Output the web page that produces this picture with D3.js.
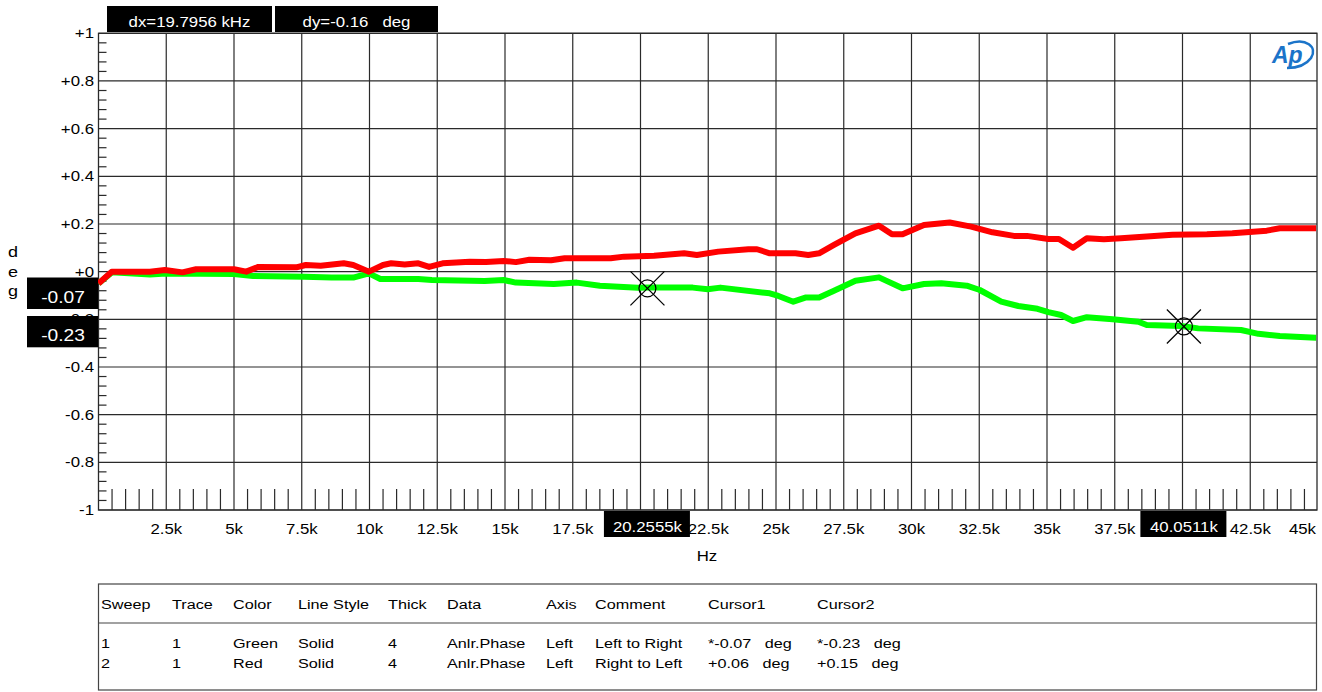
<!DOCTYPE html>
<html><head><meta charset="utf-8">
<script src="https://cdn.jsdelivr.net/npm/d3@7"></script>
<style>body{margin:0;background:#fff;} text{font-family:"Liberation Sans",Arial,sans-serif;}</style>
</head><body><svg id="c" width="1322" height="692"></svg>
<script>
// ---------- data ----------
const xTicks = [2500,5000,7500,10000,12500,15000,17500,20000,22500,25000,27500,30000,32500,35000,37500,40000,42500,45000];
const xTickLabels = ["2.5k","5k","7.5k","10k","12.5k","15k","17.5k","20k","22.5k","25k","27.5k","30k","32.5k","35k","37.5k","40k","42.5k","45k"];
const yTicks = [-1,-0.8,-0.6,-0.4,-0.2,0,0.2,0.4,0.6,0.8,1];
const yTickLabels = ["-1","-0.8","-0.6","-0.4","-0.2","+0","+0.2","+0.4","+0.6","+0.8","+1"];

const greenFreqK = [0,0.49,1.9,2.5,5.0,5.7,7.6,8.6,9.4,9.98,10.4,11.8,12.3,14.25,14.95,15.4,16.8,17.65,18.5,19.9,20.34,21.93,22.48,22.95,24.77,25.09,25.64,26.11,26.59,27.14,27.93,28.8,29.67,30.46,31.1,32.04,32.52,33.31,33.94,34.65,35.05,35.52,35.96,36.47,37.42,38.37,38.68,39.95,40.58,42.16,42.8,43.59,44.93];
const greenDeg   = [-0.05,-0.003,-0.012,-0.008,-0.01,-0.018,-0.021,-0.025,-0.025,-0.007,-0.031,-0.031,-0.035,-0.039,-0.035,-0.046,-0.052,-0.046,-0.059,-0.068,-0.067,-0.067,-0.074,-0.067,-0.091,-0.102,-0.126,-0.108,-0.108,-0.08,-0.038,-0.024,-0.07,-0.052,-0.049,-0.059,-0.077,-0.126,-0.144,-0.156,-0.17,-0.182,-0.207,-0.191,-0.2,-0.21,-0.224,-0.228,-0.238,-0.245,-0.261,-0.27,-0.277];

const redFreqK = [0,0.49,1.9,2.45,3.1,3.6,5.0,5.45,5.9,7.3,7.65,8.2,9.05,9.4,9.98,10.5,10.8,11.3,11.8,12.2,12.7,13.7,14.3,14.95,15.4,15.9,16.7,17.2,18.9,19.4,20.5,21.61,22.08,22.87,23.98,24.3,24.77,25.72,26.19,26.59,27.14,27.93,28.8,29.28,29.67,30.46,31.41,32.2,32.99,33.78,34.26,35.05,35.44,35.96,36.47,37.1,37.73,38.68,39.63,40.9,41.84,43.11,43.59,44.93];
const redDeg   = [-0.05,0,0,0.007,-0.003,0.01,0.01,0.0,0.02,0.018,0.028,0.025,0.035,0.028,0.0,0.028,0.035,0.03,0.035,0.02,0.035,0.042,0.04,0.045,0.04,0.05,0.048,0.056,0.056,0.063,0.067,0.077,0.07,0.084,0.094,0.094,0.077,0.077,0.07,0.077,0.112,0.161,0.193,0.157,0.157,0.196,0.206,0.189,0.165,0.15,0.15,0.137,0.137,0.10,0.14,0.136,0.14,0.147,0.155,0.157,0.161,0.172,0.182,0.182];

const cursorFreqK = [20.2555, 40.0511];
const cursorLabels = ["20.2555k","40.0511k"];
const cursorDeg = [-0.07, -0.23];
const readoutLabels = ["-0.07","-0.23"];
const headerLabels = ["dx=19.7956 kHz","dy=-0.16   deg"];
const tableHeader = ["Sweep","Trace","Color","Line Style","Thick","Data","Axis","Comment","Cursor1","Cursor2"];
const tableRow1 = ["1","1","Green","Solid","4","Anlr.Phase","Left","Left to Right","*-0.07   deg","*-0.23   deg"];
const tableRow2 = ["2","1","Red","Solid","4","Anlr.Phase","Left","Right to Left","+0.06   deg","+0.15   deg"];

// ---------- layout ----------
const L = 98.5, R = 1318, T0 = 33.3, B = 510;
const svg = d3.select("#c");
const x = d3.scaleLinear().domain([0,45000]).range([L,R]);
const y = d3.scaleLinear().domain([-1,1]).range([B,T0]);
const SX = 1.2;
function txt(g, px, py, s, anchor, size, fill){
  return g.append("text").attr("transform",`translate(${px},${py}) scale(${SX},1)`)
    .attr("text-anchor",anchor||"start").attr("font-size",size||14).attr("fill",fill||"#000")
    .style("white-space","pre").text(s);
}
const gridColor = "#2a2a2a";

// grid
const grid = svg.append("g");
grid.selectAll("line.v").data(xTicks.filter(d=>d<45000)).join("line")
  .attr("x1",d=>x(d)).attr("x2",d=>x(d)).attr("y1",T0).attr("y2",B)
  .attr("stroke",gridColor).attr("stroke-width",1.2);
grid.selectAll("line.h").data(yTicks).join("line")
  .attr("x1",L).attr("x2",1317).attr("y1",d=>y(d)).attr("y2",d=>y(d))
  .attr("stroke",gridColor).attr("stroke-width",1.2);
grid.append("rect").attr("x",L).attr("y",T0).attr("width",1317-L).attr("height",B-T0)
  .attr("fill","none").attr("stroke",gridColor).attr("stroke-width",1.3);

// minor ticks
const yMinor = d3.range(-1,1.0001,0.04).filter(v=>Math.abs(Math.round(v*5)-v*5)>0.01);
grid.selectAll("line.ym").data(yMinor).join("line")
  .attr("x1",L).attr("x2",L+8).attr("y1",d=>y(d)).attr("y2",d=>y(d))
  .attr("stroke",gridColor).attr("stroke-width",1.2);
const xMinor = d3.range(500,45000,500).filter(v=>v%2500!==0);
grid.selectAll("line.xm").data(xMinor).join("line")
  .attr("x1",d=>x(d)).attr("x2",d=>x(d)).attr("y1",B).attr("y2",B-21)
  .attr("stroke",gridColor).attr("stroke-width",1.2);

// axis labels
yTicks.forEach((v,i)=>txt(svg,94,y(v)+5,yTickLabels[i],"end",14));
const cursorPx = cursorFreqK.map(f=>x(f*1000));
xTicks.forEach((v,i)=>{
  const px = x(v);
  // labels hidden under cursor readout boxes are not shown (as in the reference)
  if(cursorPx.some(c=>Math.abs(c-px)<25)) return;
  if(v>=45000) txt(svg,1316,534,xTickLabels[i],"end",14);
  else txt(svg,px,534,xTickLabels[i],"middle",14);
});
txt(svg,707,561,"Hz","middle",14);
txt(svg,13,257,"d","middle",15);
txt(svg,13,277,"e","middle",15);
txt(svg,13,296,"g","middle",15);

// traces
const line = d3.line().x(d=>x(d[0]*1000)).y(d=>y(d[1]));
svg.append("path").datum(greenFreqK.map((f,i)=>[f,greenDeg[i]]))
  .attr("d",line).attr("fill","none").attr("stroke","#00ff00").attr("stroke-width",6).attr("stroke-linejoin","round");
svg.append("path").datum(redFreqK.map((f,i)=>[f,redDeg[i]]))
  .attr("d",line).attr("fill","none").attr("stroke","#ff0000").attr("stroke-width",6).attr("stroke-linejoin","round");

// cursors
cursorFreqK.forEach((f,i)=>{
  const cx = x(f*1000), cy = y(cursorDeg[i]);
  const g = svg.append("g").attr("stroke","#000").attr("stroke-width",1.2).attr("fill","none");
  g.append("circle").attr("cx",cx).attr("cy",cy).attr("r",8.5);
  g.append("line").attr("x1",cx-17).attr("y1",cy-17).attr("x2",cx+17).attr("y2",cy+17);
  g.append("line").attr("x1",cx-17).attr("y1",cy+17).attr("x2",cx+17).attr("y2",cy-17);
  svg.append("rect").attr("x",cx-43.5).attr("y",511).attr("width",86).attr("height",26).attr("fill","#000");
  txt(svg,cx,531.5,cursorLabels[i],"middle",14,"#fff");
});
// y readout boxes
[[277.5,309],[316,347.3]].forEach((b,i)=>{
  svg.append("rect").attr("x",27).attr("y",b[0]).attr("width",71).attr("height",b[1]-b[0]).attr("fill","#000");
  txt(svg,63,b[1]-6.5,readoutLabels[i],"middle",16,"#fff");
});
// header boxes
[[107,272],[275,438]].forEach((b,i)=>{
  svg.append("rect").attr("x",b[0]).attr("y",6).attr("width",b[1]-b[0]).attr("height",26).attr("fill","#000");
  txt(svg,(b[0]+b[1])/2,26.5,headerLabels[i],"middle",14,"#fff");
});

// AP logo
const logo = svg.append("g");
logo.append("path").attr("d","M1288,44 C1306,37 1318,47 1311,58 C1306,65 1296,68 1287,68")
  .attr("fill","none").attr("stroke","#1b74c9").attr("stroke-width",2.6);
logo.append("text").attr("x",1272).attr("y",63).attr("font-size",23).attr("font-weight","bold")
  .attr("font-style","italic").attr("fill","#1b74c9").text("Ap");

// table
const tb = svg.append("g");
tb.append("rect").attr("x",98.5).attr("y",584).attr("width",1218).attr("height",106)
  .attr("fill","none").attr("stroke","#444").attr("stroke-width",1.2);
tb.append("line").attr("x1",98.5).attr("x2",1316.5).attr("y1",623).attr("y2",623).attr("stroke","#444").attr("stroke-width",1.2);
const colX = [101,172,233,298,388,447,546,595,708,817];
tableHeader.forEach((s,i)=>txt(tb,colX[i],609,s,"start",13.5));
tableRow1.forEach((s,i)=>txt(tb,colX[i],648,s,"start",13.5));
tableRow2.forEach((s,i)=>txt(tb,colX[i],668,s,"start",13.5));
</script></body></html>
